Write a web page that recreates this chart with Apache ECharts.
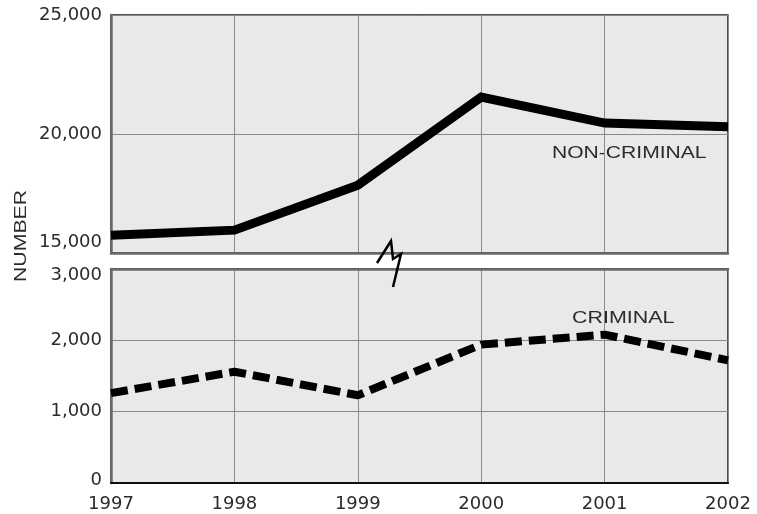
<!DOCTYPE html>
<html>
<head>
<meta charset="utf-8">
<script src="https://cdn.jsdelivr.net/npm/echarts@6/dist/echarts.min.js"></script>
<style>
html,body{margin:0;padding:0;background:#fff;}
#Chart{width:757px;height:514px;}
</style>
</head>
<body>
<div id="Chart"></div>
<script>
var years=['1997','1998','1999','2000','2001','2002']
var nonCriminal=[15750,15960,17850,21550,20460,20300]
var criminal=[1260,1560,1230,1940,2080,1720]
var topTicks=[15000,20000,25000]
var bottomTicks=[0,1000,2000,3000]

//千分位
function fmt(v){
	return String(v).replace(/\B(?=(\d{3})+(?!\d))/g,',')
}

function drawChar(){
	var myChart=echarts.init(document.getElementById('Chart'))
	var numFont='DejaVu Sans, sans-serif'
	var font='Liberation Sans, Arial, sans-serif'
	var txtColor='#2b2b2b'
	var gridLine={show:true,lineStyle:{color:'#8a8a8a',width:1}}
	option={
		animation:false,
		grid:[
			{left:111,right:29,top:15,height:238,show:true,backgroundColor:'#e9e9e9',borderColor:'#1a1a1a',borderWidth:1.5},
			{left:111,right:29,top:269,height:214,show:true,backgroundColor:'#e9e9e9',borderColor:'#1a1a1a',borderWidth:1.5}
		],
		xAxis:[
			{
				gridIndex:0,type:'category',data:years,boundaryGap:false,
				axisLine:{lineStyle:{color:'#6a6a6a',width:2.5}},
				axisTick:{show:false},axisLabel:{show:false},
				splitLine:gridLine
			},
			{
				gridIndex:1,type:'category',data:years,boundaryGap:false,
				axisLine:{lineStyle:{color:'#111',width:2}},
				axisTick:{show:false},
				axisLabel:{color:txtColor,fontSize:18,fontFamily:numFont,margin:12,interval:0},
				splitLine:gridLine
			},
			{
				gridIndex:1,type:'category',data:years,boundaryGap:false,position:'top',
				axisLine:{lineStyle:{color:'#6a6a6a',width:2.5}},
				axisTick:{show:false},axisLabel:{show:false},splitLine:{show:false}
			}
		],
		yAxis:[
			{
				gridIndex:0,type:'value',min:topTicks[0],max:topTicks[2],interval:5000,
				axisLine:{show:true,lineStyle:{color:'#6a6a6a',width:2.5}},
				axisTick:{show:false},
				axisLabel:{
					color:txtColor,fontSize:18,fontFamily:numFont,margin:9,
					formatter:function(v){
						if(v==topTicks[0]) return '{lo|'+fmt(v)+'}'
						return fmt(v)
					},
					rich:{lo:{color:txtColor,fontSize:18,fontFamily:numFont,padding:[0,0,22,0]}}
				},
				splitLine:gridLine
			},
			{
				gridIndex:1,type:'value',min:bottomTicks[0],max:bottomTicks[3],interval:1000,
				axisLine:{show:true,lineStyle:{color:'#6a6a6a',width:2.5}},
				axisTick:{show:false},
				axisLabel:{
					color:txtColor,fontSize:18,fontFamily:numFont,margin:9,
					formatter:function(v){
						if(v==bottomTicks[3]) return '{hi|'+fmt(v)+'}'
						if(v==bottomTicks[0]) return '{lo|'+fmt(v)+'}'
						return fmt(v)
					},
					rich:{
						hi:{color:txtColor,fontSize:18,fontFamily:numFont,padding:[12,0,0,0]},
						lo:{color:txtColor,fontSize:18,fontFamily:numFont,padding:[0,0,6,0]}
					}
				},
				splitLine:gridLine
			}
		],
		series:[
			{
				name:'NON-CRIMINAL',type:'line',xAxisIndex:0,yAxisIndex:0,data:nonCriminal,
				symbol:'none',lineStyle:{color:'#000',width:9,join:'miter'},z:5
			},
			{
				name:'CRIMINAL',type:'line',xAxisIndex:1,yAxisIndex:1,data:criminal,
				symbol:'none',lineStyle:{color:'#000',width:8,type:[17,7],cap:'butt'},z:5
			}
		],
		graphic:[
			{type:'text',x:21,y:282,rotation:Math.PI/2,scaleX:1.25,
				style:{text:'NUMBER',fill:txtColor,font:'17px '+font,textAlign:'left',textVerticalAlign:'middle'}},
			{type:'text',x:552,y:153,scaleX:1.24,
				style:{text:'NON-CRIMINAL',fill:txtColor,font:'17px '+font,textAlign:'left',textVerticalAlign:'middle'}},
			{type:'text',x:572,y:318,scaleX:1.26,
				style:{text:'CRIMINAL',fill:txtColor,font:'17px '+font,textAlign:'left',textVerticalAlign:'middle'}},
			{type:'polyline',shape:{points:[[377,263],[391,241],[393,259],[401,254],[393,287]]},
				style:{stroke:'#000',lineWidth:2.5,fill:null},z:100}
		]
	}
	myChart.setOption(option)
}

drawChar()
</script>
</body>
</html>
